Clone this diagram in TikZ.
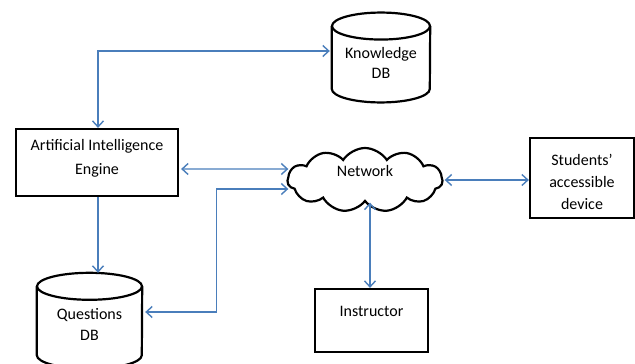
\documentclass[tikz,border=0pt]{standalone}
\usepackage{fontspec}
\setmainfont{Carlito}
\usetikzlibrary{shapes.symbols,arrows.meta}
\definecolor{lineblue}{HTML}{4A7EBB}
\newcommand{\shiftedtext}[2]{\smash{\raisebox{#1}{\begin{tabular}{@{}c@{}}#2\end{tabular}}}}
\begin{document}
\begin{tikzpicture}[x=1pt,y=-1pt,
  font=\fontsize{16}{22}\selectfont,
  box/.style={draw=black,line width=2.2pt,rectangle,inner sep=0pt},
  dbarea/.style={rectangle,inner sep=0pt},
  dbline/.style={draw=black,line width=2.2pt},
  conn/.style={draw=lineblue,line width=1.4pt},
  tipend/.tip={Straight Barb[length=6pt,width=11pt,line width=1.4pt]},
]
\useasboundingbox (0,0) rectangle (635,364);
% boxes
\node[box,minimum width=162pt,minimum height=67pt] (ai) at (97,162.5)
  {\fontsize{16}{24}\selectfont\shiftedtext{0.5pt}{Artificial Intelligence\\Engine}};
\node[box,minimum width=104pt,minimum height=80pt] (stu) at (582,178)
  {\shiftedtext{-9pt}{Students’\\accessible\\device}};
\node[box,minimum width=113pt,minimum height=63pt] (ins) at (371.5,320.5)
  {\shiftedtext{4.5pt}{Instructor}};
% cloud
\node[draw=black,line width=2.2pt,cloud,cloud puffs=11,cloud puff arc=115,aspect=2.4,minimum width=155pt,minimum height=64pt,inner sep=0pt] (net) at (365,180)
  {\shiftedtext{4pt}{Network}};
% databases
\node[dbarea,minimum width=98pt,minimum height=89.5pt] (kdb) at (381,57.5)
  {\fontsize{16}{20}\selectfont\shiftedtext{-11.5pt}{Knowledge\\DB}};
\draw[dbline] ([yshift=-13.5pt]kdb.north west) -- ([yshift=13.5pt]kdb.south west)
  arc[start angle=180,end angle=360,x radius=49pt,y radius=13.5pt]
  -- ([yshift=-13.5pt]kdb.north east);
\draw[dbline] ([yshift=-13.5pt]kdb.north) ellipse [x radius=49pt,y radius=13.5pt];
\node[dbarea,minimum width=105pt,minimum height=95.5pt] (qdb) at (89.5,320.75)
  {\fontsize{16}{21}\selectfont\shiftedtext{-9.75pt}{Questions\\DB}};
\draw[dbline] ([yshift=-13.5pt]qdb.north west) -- ([yshift=13.5pt]qdb.south west)
  arc[start angle=180,end angle=360,x radius=52.5pt,y radius=13.5pt]
  -- ([yshift=-13.5pt]qdb.north east);
\draw[dbline] ([yshift=-13.5pt]qdb.north) ellipse [x radius=52.5pt,y radius=13.5pt];
% connectors
\coordinate (insTop) at ([xshift=-1.5pt]ins.north);
\draw[conn,{tipend}-{tipend}] ([xshift=1pt]ai.north) |- ([xshift=-2pt,yshift=6.5pt]kdb.west);
\draw[conn,{tipend}-{tipend}] ([xshift=2pt,yshift=-6.5pt]ai.east) -- ([xshift=2pt,yshift=11pt]net.west);
\draw[conn,-{tipend}] ([xshift=1pt]ai.south) -- ([xshift=1pt]ai.south |- qdb.north);
\draw[conn,{tipend}-{tipend}] ([xshift=3pt,yshift=8.75pt]qdb.east) -- ++(71,0) |- ([xshift=2pt,yshift=-9pt]net.west);
\draw[conn,{tipend}-{tipend}] ([xshift=1pt]net.east) -- (net.east -| stu.west);
\draw[conn,{tipend}-{tipend}] (insTop |- net.south) -- (insTop);
\end{tikzpicture}
\end{document}
